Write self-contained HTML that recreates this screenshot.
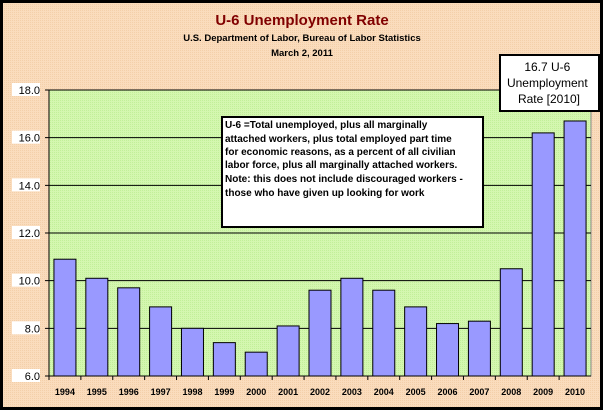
<!DOCTYPE html>
<html><head><meta charset="utf-8"><style>
html,body{margin:0;padding:0;width:604px;height:414px;overflow:hidden;background:#fff}
svg{display:block;font-family:"Liberation Sans",sans-serif}
</style></head><body>
<svg id="chart" width="604" height="414" xmlns="http://www.w3.org/2000/svg">
<defs>
<pattern id="peach" width="2" height="2" patternUnits="userSpaceOnUse"><rect width="2" height="2" fill="#fadcbd"/><rect width="1" height="1" fill="#f3cfa9"/></pattern>
<pattern id="green" width="2" height="2" patternUnits="userSpaceOnUse"><rect width="2" height="2" fill="#d4f7b0"/><rect width="1" height="1" fill="#c2ef99"/></pattern>
</defs>
<rect x="1.5" y="1.5" width="600" height="407" fill="url(#peach)" stroke="#000" stroke-width="3"/>
<text x="302" y="25" text-anchor="middle" font-size="15" font-weight="bold" fill="#800000">U-6 Unemployment Rate</text>
<text x="302" y="41" text-anchor="middle" font-size="9.5" font-weight="bold">U.S. Department of Labor, Bureau of Labor Statistics</text>
<text x="302" y="56" text-anchor="middle" font-size="9.5" font-weight="bold">March 2, 2011</text>
<rect x="49" y="90" width="542" height="286" fill="url(#green)" stroke="#888"/>
<g id="grid"></g>
<g id="bars"></g>
<g id="ylabels"></g>
<g id="xlabels"></g>
<line x1="49" y1="90" x2="49" y2="376" stroke="#000"/>
<line x1="49" y1="376" x2="591" y2="376" stroke="#000"/>
<g>
<rect x="222" y="117" width="261" height="110" fill="#fff" stroke="#000" stroke-width="2"/>
<text font-size="10" font-weight="bold">
<tspan x="225" y="128">U-6 =Total unemployed, plus all marginally</tspan>
<tspan x="225" y="142">attached workers, plus total employed part time</tspan>
<tspan x="225" y="155">for economic reasons, as a percent of all civilian</tspan>
<tspan x="225" y="168">labor force, plus all marginally attached workers.</tspan>
<tspan x="225" y="182">Note: this does not include discouraged workers -</tspan>
<tspan x="225" y="196">those who have given up looking for work</tspan>
</text>
</g>
<g>
<rect x="500" y="55" width="99" height="56" fill="#fff" stroke="#000" stroke-width="2"/>
<text font-size="12" text-anchor="middle">
<tspan x="549" y="71">16.7 U-6</tspan>
<tspan x="549" y="87">Unemployment</tspan>
<tspan x="549" y="103">Rate [2010]</tspan>
</text>
</g>
</svg>
<script>
const years=["1994","1995","1996","1997","1998","1999","2000","2001","2002","2003","2004","2005","2006","2007","2008","2009","2010"];
const rates=[10.9,10.1,9.7,8.9,8.0,7.4,7.0,8.1,9.6,10.1,9.6,8.9,8.2,8.3,10.5,16.2,16.7];
const yTicks=[6,8,10,12,14,16,18];
const yTickLabels=["6.0","8.0","10.0","12.0","14.0","16.0","18.0"];
const NS="http://www.w3.org/2000/svg";
const L=49,R=591,T=90,B=376,ymin=6,ymax=18;
const band=(R-L)/years.length;
function y(v){return B-(v-ymin)/(ymax-ymin)*(B-T);}
function x(i){return L+i*band;}
function mk(t,a,p){const e=document.createElementNS(NS,t);for(const k in a)e.setAttribute(k,a[k]);p.appendChild(e);return e;}
const grid=document.getElementById('grid'),bars=document.getElementById('bars'),yl=document.getElementById('ylabels'),xl=document.getElementById('xlabels');
yTicks.forEach((t,i)=>{
  const ln=mk('line',{x1:L-4,x2:R,y1:y(t),y2:y(t),stroke:'#000','stroke-width':1},grid);
  
  
  const bg=mk('rect',{x:12,y:y(t)-7,width:28,height:13,fill:'#fff'},yl);
  
  
  const tx=mk('text',{x:40,y:y(t)+4,'text-anchor':'end','font-size':11},yl);
  tx.textContent=yTickLabels[i];
  
  
});
years.forEach((yr,i)=>{
  const bw=22,bx=x(i)+(band-bw)/2;
  const b=mk('rect',{x:bx,y:y(rates[i]),width:bw,height:B-y(rates[i]),fill:'#9999ff',stroke:'#000','stroke-width':1},bars);
  
  
  const tk=mk('line',{x1:x(i),x2:x(i),y1:B,y2:B+4,stroke:'#000'},xl);
  
  
  const tx=mk('text',{x:x(i)+band/2,y:395,'text-anchor':'middle','font-size':9,'font-weight':'bold'},xl);
  tx.textContent=yr;
  
  
});
</script>
</body></html>
